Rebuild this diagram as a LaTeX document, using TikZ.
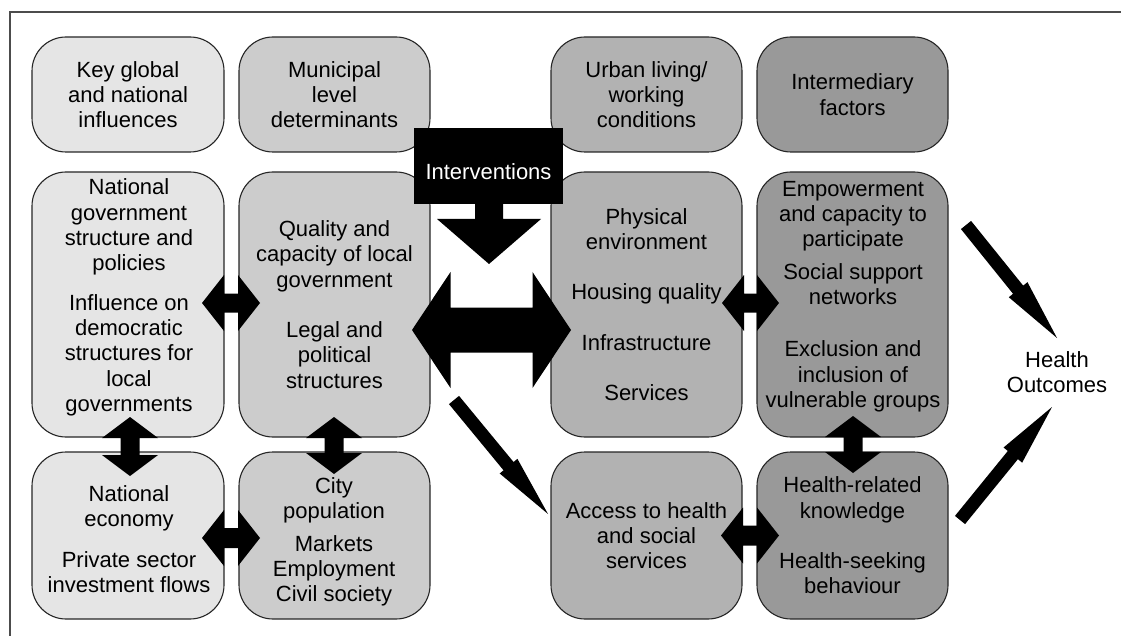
\documentclass[tikz,border=0pt]{standalone}
\usepackage{fontspec}
\setmainfont{Liberation Sans}
\usetikzlibrary{calc}
\definecolor{cA}{gray}{0.90}
\definecolor{cB}{gray}{0.80}
\definecolor{cC}{gray}{0.70}
\definecolor{cD}{gray}{0.60}
\definecolor{edgec}{gray}{0.15}
\definecolor{framec}{gray}{0.30}
% horizontal double block arrow: cx cy halflength headlength headhalfwidth shafthalfwidth
\newcommand\hdarr[6]{%
  \fill ({#1-#3},{#2}) -- ({#1-#3+#4},{#2-#5}) -- ({#1-#3+#4},{#2-#6}) --
        ({#1+#3-#4},{#2-#6}) -- ({#1+#3-#4},{#2-#5}) -- ({#1+#3},{#2}) --
        ({#1+#3-#4},{#2+#5}) -- ({#1+#3-#4},{#2+#6}) -- ({#1-#3+#4},{#2+#6}) --
        ({#1-#3+#4},{#2+#5}) -- cycle;}
% vertical double block arrow
\newcommand\vdarr[6]{%
  \fill ({#1},{#2-#3}) -- ({#1+#5},{#2-#3+#4}) -- ({#1+#6},{#2-#3+#4}) --
        ({#1+#6},{#2+#3-#4}) -- ({#1+#5},{#2+#3-#4}) -- ({#1},{#2+#3}) --
        ({#1-#5},{#2+#3-#4}) -- ({#1-#6},{#2+#3-#4}) -- ({#1-#6},{#2-#3+#4}) --
        ({#1-#5},{#2-#3+#4}) -- cycle;}
% single slanted block arrow from coordinate #1 to coordinate #2
\newcommand\sarr[5]{%
  \coordinate (tmpb) at ($(#2)!#3!(#1)$);
  \fill ($(#1)!#5!90:(#2)$) -- ($(tmpb)!#5!90:(#2)$) -- ($(tmpb)!#4!90:(#2)$) --
        (#2) -- ($(tmpb)!#4!-90:(#2)$) -- ($(tmpb)!#5!-90:(#2)$) --
        ($(#1)!#5!-90:(#2)$) -- cycle;}
\tikzset{
  box/.style={draw=edgec, line width=1.1pt, rounded corners=34pt, inner sep=0pt,
    outer sep=0pt, align=center, font=\fontsize{22}{25.3}\selectfont},
  txt/.style={inner sep=0pt, align=center, font=\fontsize{22}{25.3}\selectfont},
  hdr/.style={box, minimum height=115pt},
  mid/.style={box, minimum height=265pt},
  low/.style={box, minimum height=167pt},
}
\begin{document}
\begin{tikzpicture}[x=1pt, y=-1pt]
\useasboundingbox (0,0) rectangle (1121,636);
\fill[white] (0,0) rectangle (1121,636);
\draw[framec, line width=1.3pt] (10,636) -- (10,12) -- (1121,12);

% header row
\node[hdr, fill=cA, minimum width=192pt] (kg) at (128,94.5) {Key global\\and national\\influences};
\node[hdr, fill=cB, minimum width=191pt] (md) at (334.5,94.5) {Municipal\\level\\determinants};
\node[hdr, fill=cC, minimum width=191pt] (ul) at (646.5,94.5) {Urban living/\\working\\conditions};
\node[hdr, fill=cD, minimum width=191pt] (im) at (852.5,94.5) {Intermediary\\factors};

% middle row
\node[mid, fill=cA, minimum width=192pt] (ng) at (128,304.5) {};
\node[txt] (ngt) at (129,297.5) {National\\government\\structure and\\policies\\[14pt]Influence on\\democratic\\structures for\\local\\governments};
\node[mid, fill=cB, minimum width=191pt] (qc) at (334.5,304.5) {Quality and\\capacity of local\\government\\[25pt]Legal and\\political\\structures};
\node[mid, fill=cC, minimum width=191pt] (pe) at (646.5,304.5) {Physical\\environment\\[25pt]Housing quality\\[25pt]Infrastructure\\[25pt]Services};
\node[mid, fill=cD, minimum width=191pt] (em) at (852.5,304.5) {};
\node[txt] (emt) at (853,296.5) {Empowerment\\and capacity to\\participate\\[7pt]Social support\\networks\\[27pt]Exclusion and\\inclusion of\\vulnerable groups};

% bottom row
\node[low, fill=cA, minimum width=192pt] (ne) at (128,535.5) {};
\node[txt] (net) at (129,539) {National\\economy\\[15pt]Private sector\\investment flows};
\node[low, fill=cB, minimum width=191pt] (cp) at (334.5,535.5) {};
\node[txt] (cpt) at (334,542) {City\\population\\[7pt]Markets\\Employment\\Civil society};
\node[low, fill=cC, minimum width=191pt] (ah) at (646.5,535.5) {Access to health\\and social\\services};
\node[low, fill=cD, minimum width=191pt] (hr) at (852.5,535.5) {Health-related\\knowledge\\[25pt]Health-seeking\\behaviour};

% interventions
\node[fill=black, minimum width=149pt, minimum height=76pt, inner sep=0pt] (iv) at (488.5,166) {};
\node[txt, text=white] (ivt) at (488.5,172) {Interventions};
\fill (475,200) -- (475,219) -- (437,219) -- (489,264) -- (541,219) -- (503,219) -- (503,200) -- cycle;

% big double arrow
\hdarr{491.5}{330}{79.5}{38.5}{58}{22.5}

% small double arrows
\hdarr{231}{303}{29}{22}{28}{9.5}
\hdarr{231}{538}{29}{22}{28}{10}
\hdarr{750.5}{303}{28.5}{22}{28}{9.5}
\hdarr{750}{535.5}{29}{22}{28}{10}
\vdarr{130}{446.5}{29.5}{21}{28}{9.5}
\vdarr{334}{445.5}{28.5}{21}{28}{9.5}
\vdarr{853}{444.5}{28.5}{21}{28}{9.5}

% health outcomes
\node[txt] (ho) at (1057,372) {Health\\Outcomes};

% slanted arrows
\coordinate (a1s) at (454,400);
\coordinate (a1t) at (548,514);
\coordinate (a2s) at (966,225);
\coordinate (a2t) at (1057,338);
\coordinate (a3s) at (960,520);
\coordinate (a3t) at (1052,407);
\sarr{a1s}{a1t}{62pt}{11.5pt}{6.5pt}
\sarr{a2s}{a2t}{62pt}{12pt}{6.5pt}
\sarr{a3s}{a3t}{62pt}{12pt}{6.5pt}
\end{tikzpicture}
\end{document}
